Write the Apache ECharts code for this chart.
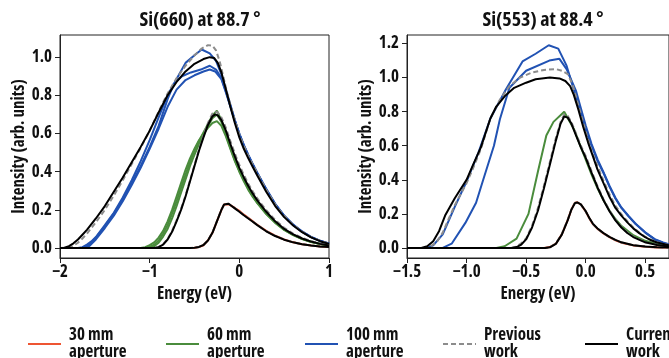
<!DOCTYPE html>
<html><head><meta charset="utf-8">
<script src="https://cdn.jsdelivr.net/npm/echarts@6/dist/echarts.min.js"></script>
<style>html,body{margin:0;padding:0;background:#fff}#c{width:669px;height:358px}</style>
</head><body><div id="c"></div>
<script>
// ---------- tick labels ----------
const leftXTicks = [-2, -1, 0, 1];
const rightXTicks = [-1.5, -1.0, -0.5, 0.0, 0.5];
const leftYTicks = [0, 0.2, 0.4, 0.6, 0.8, 1.0];
const rightYTicks = [0, 0.2, 0.4, 0.6, 0.8, 1.0, 1.2];
const titles = ['Si(660) at 88.7 °', 'Si(553) at 88.4 °'];
const legendNames = ['30 mm\naperture', '60 mm\naperture', '100 mm\naperture', 'Previous\nwork', 'Current\nwork'];

// ---------- Si(660), [energy eV, intensity] ----------
const L30_meas = [[-2,0],[-0.6,0],[-0.5,0.002],[-0.45,0.005],[-0.4,0.015],[-0.35,0.04],[-0.3,0.08],[-0.25,0.14],[-0.2,0.2],[-0.17,0.228],[-0.15,0.233],[-0.12,0.23],[-0.1,0.225],[-0.05,0.21],[0,0.195],[0.05,0.175],[0.1,0.158],[0.15,0.14],[0.2,0.122],[0.3,0.09],[0.4,0.065],[0.5,0.045],[0.6,0.03],[0.7,0.02],[0.8,0.013],[0.9,0.008],[1.0,0.005]];
const L30_prev = [[-2,0],[-0.55,0],[-0.5,0.002],[-0.45,0.006],[-0.4,0.016],[-0.35,0.041],[-0.3,0.081],[-0.25,0.141],[-0.2,0.201],[-0.17,0.229],[-0.15,0.235],[-0.12,0.232],[-0.1,0.226],[-0.05,0.209],[0,0.191],[0.05,0.173],[0.1,0.156],[0.15,0.139],[0.2,0.121],[0.3,0.089],[0.4,0.064],[0.5,0.044],[0.6,0.03],[0.7,0.02],[0.8,0.013],[0.9,0.008],[1.0,0.005]];
const L30_cur = [[-2,0],[-0.55,0],[-0.5,0.002],[-0.45,0.006],[-0.4,0.016],[-0.35,0.04],[-0.3,0.08],[-0.25,0.14],[-0.2,0.2],[-0.17,0.228],[-0.15,0.234],[-0.12,0.232],[-0.1,0.226],[-0.05,0.208],[0,0.19],[0.05,0.172],[0.1,0.155],[0.15,0.138],[0.2,0.12],[0.3,0.088],[0.4,0.063],[0.5,0.044],[0.6,0.03],[0.7,0.02],[0.8,0.013],[0.9,0.008],[1.0,0.005]];

const L60_meas1 = [[-2,0],[-1.1,0],[-1.05,0.005],[-1.0,0.015],[-0.95,0.03],[-0.9,0.055],[-0.85,0.09],[-0.8,0.14],[-0.75,0.2],[-0.7,0.27],[-0.65,0.34],[-0.6,0.41],[-0.55,0.47],[-0.5,0.52],[-0.45,0.565],[-0.4,0.6],[-0.35,0.63],[-0.3,0.655],[-0.25,0.665],[-0.2,0.64],[-0.15,0.585],[-0.1,0.52],[-0.05,0.455],[0,0.4],[0.05,0.35],[0.1,0.305],[0.15,0.268],[0.2,0.235],[0.3,0.178],[0.4,0.132],[0.5,0.095],[0.6,0.068],[0.7,0.047],[0.8,0.032],[0.9,0.021],[1.0,0.013]];
const L60_meas2 = [[-2,0],[-1.05,0],[-1.0,0.006],[-0.95,0.018],[-0.9,0.04],[-0.85,0.075],[-0.8,0.12],[-0.75,0.18],[-0.7,0.245],[-0.65,0.315],[-0.6,0.385],[-0.55,0.45],[-0.5,0.51],[-0.45,0.56],[-0.4,0.605],[-0.35,0.65],[-0.3,0.695],[-0.25,0.72],[-0.2,0.67],[-0.15,0.6],[-0.1,0.53],[-0.05,0.465],[0,0.408],[0.05,0.357],[0.1,0.312],[0.15,0.273],[0.2,0.24],[0.3,0.182],[0.4,0.135],[0.5,0.097],[0.6,0.07],[0.7,0.049],[0.8,0.033],[0.9,0.022],[1.0,0.014]];
const L60_meas3 = [[-2,0],[-1.0,0],[-0.95,0.01],[-0.9,0.028],[-0.85,0.06],[-0.8,0.1],[-0.75,0.155],[-0.7,0.22],[-0.65,0.29],[-0.6,0.36],[-0.55,0.43],[-0.5,0.49],[-0.45,0.545],[-0.4,0.595],[-0.35,0.64],[-0.3,0.68],[-0.25,0.70],[-0.2,0.66],[-0.15,0.595],[-0.1,0.525],[-0.05,0.46],[0,0.404],[0.1,0.31],[0.2,0.238],[0.3,0.18],[0.4,0.134],[0.5,0.096],[0.6,0.069],[0.7,0.048],[0.8,0.033],[0.9,0.021],[1.0,0.013]];
const L60_prev = [[-2,0],[-0.95,0],[-0.9,0.006],[-0.85,0.02],[-0.8,0.048],[-0.75,0.09],[-0.7,0.145],[-0.65,0.205],[-0.6,0.275],[-0.55,0.355],[-0.5,0.435],[-0.45,0.515],[-0.4,0.59],[-0.35,0.655],[-0.3,0.705],[-0.27,0.715],[-0.24,0.71],[-0.2,0.685],[-0.15,0.63],[-0.1,0.56],[-0.05,0.495],[0,0.435],[0.05,0.383],[0.1,0.337],[0.15,0.296],[0.2,0.26],[0.3,0.198],[0.4,0.147],[0.5,0.106],[0.6,0.076],[0.7,0.053],[0.8,0.036],[0.9,0.024],[1.0,0.015]];
const L60_cur = [[-2,0],[-0.95,0],[-0.9,0.005],[-0.85,0.018],[-0.8,0.045],[-0.75,0.085],[-0.7,0.14],[-0.65,0.2],[-0.6,0.27],[-0.55,0.35],[-0.5,0.43],[-0.45,0.51],[-0.4,0.58],[-0.35,0.645],[-0.3,0.69],[-0.27,0.70],[-0.24,0.695],[-0.2,0.67],[-0.15,0.615],[-0.1,0.545],[-0.05,0.48],[0,0.42],[0.05,0.37],[0.1,0.325],[0.15,0.285],[0.2,0.25],[0.3,0.19],[0.4,0.14],[0.5,0.1],[0.6,0.072],[0.7,0.05],[0.8,0.034],[0.9,0.022],[1.0,0.014]];

const L100_meas1 = [[-2,0],[-1.8,0],[-1.75,0.005],[-1.7,0.018],[-1.65,0.035],[-1.6,0.058],[-1.5,0.12],[-1.4,0.185],[-1.3,0.265],[-1.2,0.355],[-1.1,0.455],[-1.0,0.565],[-0.9,0.685],[-0.8,0.8],[-0.7,0.885],[-0.6,0.97],[-0.5,1.01],[-0.42,1.04],[-0.33,1.02],[-0.26,0.98],[-0.2,0.91],[-0.15,0.83],[-0.1,0.75],[-0.05,0.67],[0,0.6],[0.05,0.54],[0.1,0.488],[0.15,0.44],[0.2,0.395],[0.3,0.31],[0.4,0.232],[0.5,0.17],[0.6,0.123],[0.7,0.087],[0.8,0.059],[0.9,0.039],[1.0,0.024]];
const L100_meas2 = [[-2,0],[-1.75,0],[-1.7,0.01],[-1.65,0.03],[-1.6,0.055],[-1.5,0.115],[-1.4,0.18],[-1.3,0.255],[-1.2,0.34],[-1.1,0.43],[-1.0,0.53],[-0.9,0.64],[-0.8,0.78],[-0.73,0.86],[-0.64,0.9],[-0.54,0.92],[-0.43,0.935],[-0.33,0.955],[-0.26,0.935],[-0.2,0.89],[-0.15,0.82],[-0.1,0.745],[-0.05,0.668],[0,0.598],[0.05,0.538],[0.1,0.486],[0.15,0.438],[0.2,0.393],[0.3,0.308],[0.4,0.23],[0.5,0.169],[0.6,0.122],[0.7,0.086],[0.8,0.058],[0.9,0.038],[1.0,0.023]];
const L100_meas3 = [[-2,0],[-1.72,0],[-1.67,0.012],[-1.6,0.045],[-1.5,0.105],[-1.4,0.17],[-1.3,0.245],[-1.2,0.33],[-1.1,0.42],[-1.0,0.52],[-0.9,0.625],[-0.8,0.74],[-0.7,0.83],[-0.6,0.88],[-0.5,0.905],[-0.4,0.925],[-0.33,0.935],[-0.27,0.925],[-0.2,0.885],[-0.15,0.815],[-0.1,0.742],[-0.05,0.665],[0,0.596],[0.05,0.536],[0.1,0.484],[0.15,0.436],[0.2,0.391],[0.3,0.306],[0.4,0.229],[0.5,0.168],[0.6,0.121],[0.7,0.085],[0.8,0.057],[0.9,0.037],[1.0,0.023]];
const L100_prev = [[-2,0],[-1.9,0.003],[-1.85,0.012],[-1.8,0.028],[-1.75,0.05],[-1.7,0.075],[-1.6,0.135],[-1.5,0.2],[-1.4,0.275],[-1.3,0.355],[-1.2,0.44],[-1.1,0.525],[-1.0,0.615],[-0.9,0.715],[-0.8,0.81],[-0.7,0.89],[-0.6,0.955],[-0.5,1.01],[-0.42,1.045],[-0.35,1.063],[-0.3,1.06],[-0.26,1.035],[-0.22,0.98],[-0.18,0.9],[-0.14,0.82],[-0.1,0.75],[-0.05,0.67],[0,0.595],[0.05,0.535],[0.1,0.483],[0.15,0.437],[0.2,0.392],[0.3,0.305],[0.4,0.228],[0.5,0.168],[0.6,0.122],[0.7,0.086],[0.8,0.058],[0.9,0.038],[1.0,0.023]];
const L100_cur = [[-2,0],[-1.95,0.002],[-1.9,0.01],[-1.85,0.025],[-1.8,0.045],[-1.75,0.07],[-1.7,0.095],[-1.6,0.155],[-1.5,0.22],[-1.4,0.295],[-1.3,0.37],[-1.2,0.45],[-1.1,0.53],[-1.0,0.615],[-0.9,0.71],[-0.8,0.8],[-0.7,0.87],[-0.6,0.925],[-0.5,0.965],[-0.4,0.99],[-0.33,1.0],[-0.28,0.995],[-0.24,0.97],[-0.2,0.92],[-0.15,0.83],[-0.1,0.74],[-0.05,0.655],[0,0.58],[0.05,0.52],[0.1,0.47],[0.15,0.425],[0.2,0.38],[0.3,0.295],[0.4,0.22],[0.5,0.162],[0.6,0.118],[0.7,0.083],[0.8,0.056],[0.9,0.036],[1.0,0.022]];

// ---------- Si(553), [energy eV, intensity] ----------
const R30_meas = [[-1.5,0],[-0.35,0],[-0.3,0.005],[-0.25,0.025],[-0.2,0.08],[-0.15,0.165],[-0.12,0.225],[-0.09,0.265],[-0.07,0.268],[-0.04,0.255],[0,0.215],[0.03,0.175],[0.06,0.14],[0.1,0.112],[0.15,0.085],[0.2,0.063],[0.25,0.045],[0.3,0.031],[0.4,0.015],[0.5,0.007],[0.6,0.003],[0.7,0.002]];
const R30_prev = [[-1.5,0],[-0.34,0],[-0.3,0.005],[-0.25,0.026],[-0.2,0.082],[-0.15,0.167],[-0.12,0.226],[-0.09,0.264],[-0.07,0.267],[-0.04,0.254],[0,0.214],[0.03,0.176],[0.06,0.142],[0.1,0.113],[0.15,0.086],[0.2,0.064],[0.25,0.046],[0.3,0.032],[0.4,0.016],[0.5,0.008],[0.6,0.004],[0.7,0.002]];
const R30_cur = [[-1.5,0],[-0.34,0],[-0.3,0.004],[-0.25,0.024],[-0.2,0.078],[-0.15,0.163],[-0.12,0.224],[-0.09,0.263],[-0.07,0.267],[-0.04,0.256],[0,0.217],[0.03,0.177],[0.06,0.143],[0.1,0.114],[0.15,0.087],[0.2,0.065],[0.25,0.047],[0.3,0.033],[0.4,0.016],[0.5,0.008],[0.6,0.004],[0.7,0.002]];

const R60_meas = [[-1.5,0],[-0.75,0],[-0.68,0.01],[-0.58,0.055],[-0.48,0.2],[-0.4,0.45],[-0.33,0.66],[-0.27,0.74],[-0.18,0.80],[-0.1,0.7],[-0.05,0.61],[0,0.52],[0.05,0.43],[0.1,0.35],[0.15,0.28],[0.2,0.22],[0.25,0.17],[0.3,0.13],[0.4,0.075],[0.5,0.042],[0.6,0.024],[0.7,0.014]];
const R60_prev = [[-1.5,0],[-0.63,0],[-0.59,0.006],[-0.55,0.022],[-0.5,0.055],[-0.45,0.13],[-0.4,0.235],[-0.35,0.365],[-0.3,0.505],[-0.25,0.645],[-0.21,0.74],[-0.18,0.783],[-0.15,0.775],[-0.12,0.74],[-0.08,0.67],[-0.04,0.6],[0,0.54],[0.05,0.45],[0.1,0.362],[0.15,0.286],[0.2,0.22],[0.25,0.166],[0.3,0.123],[0.35,0.09],[0.4,0.066],[0.5,0.034],[0.6,0.018],[0.7,0.009]];
const R60_cur = [[-1.5,0],[-0.62,0],[-0.58,0.005],[-0.54,0.02],[-0.5,0.05],[-0.45,0.12],[-0.4,0.22],[-0.35,0.35],[-0.3,0.49],[-0.25,0.63],[-0.21,0.73],[-0.18,0.772],[-0.15,0.765],[-0.12,0.73],[-0.08,0.66],[-0.04,0.59],[0,0.53],[0.05,0.44],[0.1,0.355],[0.15,0.28],[0.2,0.215],[0.25,0.162],[0.3,0.12],[0.35,0.088],[0.4,0.064],[0.5,0.033],[0.6,0.017],[0.7,0.009]];

const R100_meas1 = [[-1.5,0],[-1.33,0],[-1.28,0.015],[-1.2,0.08],[-1.1,0.24],[-1.0,0.39],[-0.9,0.56],[-0.8,0.76],[-0.67,0.93],[-0.53,1.095],[-0.42,1.14],[-0.31,1.19],[-0.23,1.17],[-0.16,1.07],[-0.1,0.93],[-0.05,0.82],[0.01,0.676],[0.05,0.6],[0.1,0.51],[0.15,0.44],[0.2,0.36],[0.25,0.29],[0.3,0.235],[0.36,0.186],[0.42,0.14],[0.5,0.09],[0.58,0.05],[0.65,0.03],[0.7,0.02]];
const R100_meas2 = [[-1.5,0],[-1.2,0],[-1.125,0.025],[-1.01,0.147],[-0.92,0.265],[-0.86,0.4],[-0.77,0.6],[-0.72,0.755],[-0.64,0.94],[-0.5,1.04],[-0.305,1.10],[-0.22,1.11],[-0.16,1.05],[-0.08,0.92],[-0.04,0.82],[0,0.72],[0.05,0.61],[0.1,0.52],[0.15,0.445],[0.2,0.365],[0.25,0.295],[0.3,0.238],[0.36,0.188],[0.42,0.142],[0.5,0.092],[0.58,0.052],[0.65,0.032],[0.7,0.021]];
const R100_prev = [[-1.5,0],[-1.35,0],[-1.3,0.01],[-1.25,0.035],[-1.2,0.09],[-1.15,0.17],[-1.1,0.25],[-1.0,0.38],[-0.95,0.46],[-0.88,0.58],[-0.8,0.76],[-0.72,0.87],[-0.64,0.95],[-0.55,1.0],[-0.45,1.03],[-0.35,1.045],[-0.25,1.05],[-0.2,1.04],[-0.15,1.02],[-0.11,0.96],[-0.07,0.86],[-0.03,0.76],[0.01,0.66],[0.05,0.57],[0.1,0.48],[0.15,0.395],[0.2,0.315],[0.25,0.248],[0.3,0.198],[0.35,0.157],[0.4,0.12],[0.45,0.09],[0.5,0.066],[0.55,0.047],[0.6,0.033],[0.7,0.017]];
const R100_cur = [[-1.5,0],[-1.38,0],[-1.33,0.01],[-1.28,0.04],[-1.23,0.1],[-1.18,0.19],[-1.1,0.29],[-1.0,0.4],[-0.95,0.48],[-0.88,0.59],[-0.8,0.76],[-0.75,0.83],[-0.68,0.89],[-0.6,0.94],[-0.5,0.97],[-0.42,0.99],[-0.3,1.0],[-0.22,0.995],[-0.17,0.98],[-0.13,0.95],[-0.1,0.9],[-0.06,0.81],[-0.02,0.71],[0.02,0.62],[0.06,0.54],[0.1,0.46],[0.15,0.38],[0.2,0.3],[0.25,0.235],[0.3,0.19],[0.35,0.15],[0.4,0.115],[0.45,0.087],[0.5,0.063],[0.55,0.045],[0.6,0.032],[0.7,0.016]];

// ---------- styling ----------
const FONT = "'Open Sans', 'Noto Sans', sans-serif";
const FW = 'bold condensed';
const TXT = '#111';
const COL = { r: '#ee5533', g: '#4a8c3c', b: '#2152b3', p: '#8c8c8c', c: '#000000' };

function line(name, data, color, gi, dashed, z) {
  return {
    type: 'line', name: name, data: data, xAxisIndex: gi, yAxisIndex: gi,
    symbol: 'none', smooth: false, animation: false, z: z, silent: true,
    lineStyle: { color: color, width: 2, type: dashed ? [5, 3] : 'solid' },
    itemStyle: { color: color }
  };
}

const series = [];
function addPanel(gi, s) {
  s.meas30.forEach(d => series.push(line(legendNames[0], d, COL.r, gi, false, 2)));
  s.meas60.forEach(d => series.push(line(legendNames[1], d, COL.g, gi, false, 2)));
  s.meas100.forEach(d => series.push(line(legendNames[2], d, COL.b, gi, false, 2)));
  s.prev.forEach(d => series.push(line(legendNames[3], d, COL.p, gi, true, 3)));
  s.cur.forEach(d => series.push(line(legendNames[4], d, COL.c, gi, false, 4)));
}
addPanel(0, { meas30: [L30_meas], meas60: [L60_meas1, L60_meas2, L60_meas3], meas100: [L100_meas1, L100_meas2, L100_meas3],
  prev: [L30_prev, L60_prev, L100_prev], cur: [L30_cur, L60_cur, L100_cur] });
addPanel(1, { meas30: [R30_meas], meas60: [R60_meas], meas100: [R100_meas1, R100_meas2],
  prev: [R30_prev, R60_prev, R100_prev], cur: [R30_cur, R60_cur, R100_cur] });

const fmt = d => v => (v < 0 ? '\u2212' : '') + Math.abs(v).toFixed(d);

function xAxis(gi, min, max, ticks, dec) {
  return {
    type: 'value', gridIndex: gi, min: min, max: max,
    name: 'Energy (eV)', nameLocation: 'middle', nameGap: 25,
    nameTextStyle: { fontFamily: FONT, fontWeight: FW, fontSize: 17, color: TXT },
    axisLine: { show: true, onZero: false, lineStyle: { color: '#222', width: 1 } },
    axisTick: { show: true, length: 5, inside: false, customValues: ticks, lineStyle: { color: '#222' } },
    axisLabel: { customValues: ticks, formatter: fmt(dec), margin: 6, fontFamily: FONT, fontWeight: FW, fontSize: 17, color: TXT },
    splitLine: { show: false }
  };
}
function yAxis(gi, min, max, ticks, gap) {
  return {
    type: 'value', gridIndex: gi, min: min, max: max,
    name: 'Intensity (arb. units)', nameLocation: 'middle', nameGap: gap,
    nameTextStyle: { fontFamily: FONT, fontWeight: FW, fontSize: 17, color: TXT },
    axisLine: { show: true, onZero: false, lineStyle: { color: '#222', width: 1 } },
    axisTick: { show: true, length: 5, inside: false, customValues: ticks, lineStyle: { color: '#222' } },
    axisLabel: { customValues: ticks, formatter: fmt(1), margin: 8, fontFamily: FONT, fontWeight: FW, fontSize: 17, color: TXT },
    splitLine: { show: false }
  };
}

const legendLefts = [22, 160, 299, 437, 579];
const legends = legendNames.map((n, i) => ({
  data: [n], left: legendLefts[i], top: 322, orient: 'horizontal',
  itemWidth: 33, itemHeight: 12, selectedMode: false,
  itemStyle: { opacity: 0 },
  textStyle: { fontFamily: FONT, fontWeight: FW, fontSize: 17, color: TXT, lineHeight: 17, padding: [0, 0, 0, 3] }
}));

const chart = echarts.init(document.getElementById('c'), null, { renderer: 'canvas' });
chart.setOption({
  backgroundColor: '#fff',
  animation: false,
  title: titles.map((t, i) => ({
    text: t, left: i === 0 ? 195 : 538, top: 5, textAlign: 'center',
    textStyle: { fontFamily: FONT, fontWeight: FW, fontSize: 20, color: TXT }
  })),
  legend: legends,
  grid: [
    { left: 60, top: 35, width: 269, height: 223, show: true, borderColor: '#222', borderWidth: 1, backgroundColor: 'transparent' },
    { left: 407, top: 35, width: 264, height: 223, show: true, borderColor: '#222', borderWidth: 1, backgroundColor: 'transparent' }
  ],
  xAxis: [xAxis(0, -2, 1, leftXTicks, 0), xAxis(1, -1.5, 0.7, rightXTicks, 1)],
  yAxis: [yAxis(0, -0.052, 1.116, leftYTicks, 31), yAxis(1, -0.059, 1.25, rightYTicks, 31)],
  series: series
});
</script></body></html>
